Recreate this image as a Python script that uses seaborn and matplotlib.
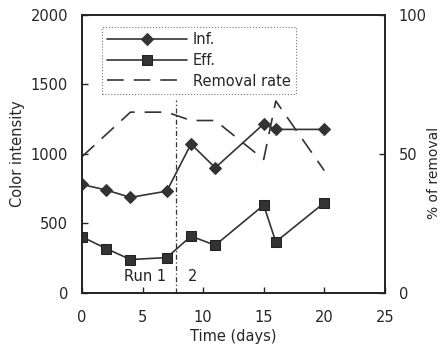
import matplotlib
matplotlib.use("Agg")
import matplotlib.pyplot as plt
import pandas as pd
import seaborn as sns

# data
days = [0, 2, 4, 7, 9, 11, 15, 16, 20]
inf_color = [780, 740, 687, 732, 1071, 900, 1215, 1176, 1176]
eff_color = [403, 319, 240, 254, 408, 343, 631, 367, 648]
removal_pct = [49, 57, 65, 65, 62, 62, 48, 69, 44]
run_split = 7.8

df = pd.DataFrame({"day": days, "inf": inf_color, "eff": eff_color, "removal": removal_pct})

sns.set_theme(style="ticks")
plt.rcParams["font.family"] = ["DejaVu Sans"]

fig = plt.figure(figsize=(4.48, 3.45), dpi=100)
ax = fig.add_axes([0.183, 0.151, 0.676, 0.806])
ax2 = ax.twinx()

sns.lineplot(data=df, x="day", y="inf", ax=ax, color="#333333", marker="D",
             markersize=6, linewidth=1.2, markeredgecolor="#333333", label="Inf.", legend=False)
sns.lineplot(data=df, x="day", y="eff", ax=ax, color="#333333", marker="s",
             markersize=7.5, linewidth=1.2, markeredgecolor="#222222", label="Eff.", legend=False)
sns.lineplot(data=df, x="day", y="removal", ax=ax2, color="#333333", linewidth=1.2,
             label="Removal rate", legend=False)
ax2.lines[0].set_dashes([10, 6])

ax.plot([run_split, run_split], [0, 1390], color="#333333", linewidth=0.9, linestyle=(0, (4, 2, 1, 2)))
ax.text(5.2, 115, "Run 1", ha="center", va="center", fontsize=10.5, color="#222222")
ax.text(9.15, 115, "2", ha="center", va="center", fontsize=10.5, color="#222222")

ax.set_xlim(0, 25)
ax.set_ylim(0, 2000)
ax2.set_ylim(0, 100)
ax.set_xticks(range(0, 26, 5))
ax.set_yticks(range(0, 2001, 500))
ax2.set_yticks([0, 50, 100])
ax.set_xlabel("Time (days)", fontsize=10.5, labelpad=3)
ax.set_ylabel("Color intensity", fontsize=10.5, labelpad=4)
ax2.set_ylabel("% of removal", fontsize=10, labelpad=2)
ax2.yaxis.set_label_coords(1.14, 0.43)
for a in (ax, ax2):
    a.tick_params(direction="in", labelsize=10.5, length=4, width=1, pad=10)
    for s in a.spines.values():
        s.set_linewidth(1.2)
        s.set_color("#222222")
ax.tick_params(axis="x", pad=12)

h1, l1 = ax.get_legend_handles_labels()
h2, l2 = ax2.get_legend_handles_labels()
leg = ax.legend(h1 + h2, l1 + l2, loc="upper left", bbox_to_anchor=(0.066, 0.957),
                borderaxespad=0, fontsize=10.5, frameon=True, fancybox=False,
                handlelength=5.5, borderpad=0.35, labelspacing=0.4, handletextpad=0.4)
leg.get_frame().set_edgecolor("#555555")
leg.get_frame().set_linewidth(0.8)
leg.get_frame().set_linestyle(":")

fig.savefig("out.png", dpi=100)
